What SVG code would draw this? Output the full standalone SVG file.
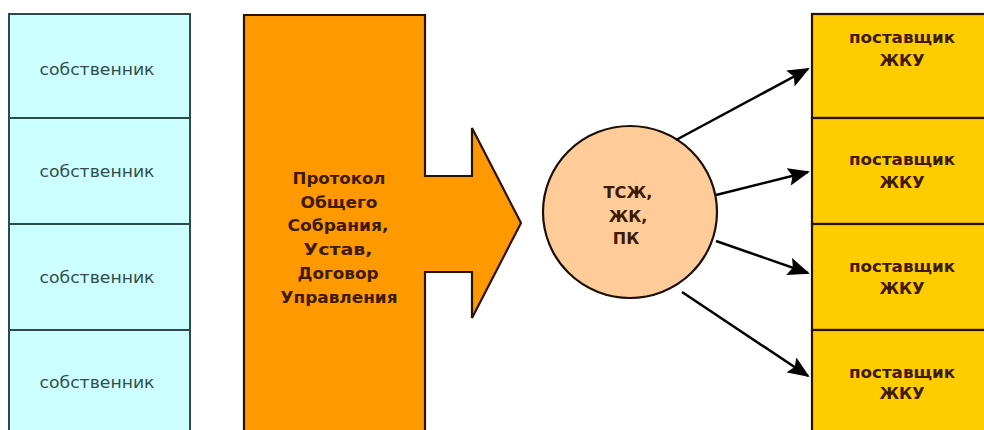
<svg xmlns="http://www.w3.org/2000/svg" width="984" height="430" viewBox="0 0 984 430">
  <style>
    .owner rect { fill: #ccffff; stroke: #2c4a4a; stroke-width: 2; }
    .owner text { font-family: "DejaVu Sans", "Liberation Sans", sans-serif; font-size: 16px; fill: #334d4d; text-anchor: middle; }
    .doc { fill: #ff9900; stroke: #2a1200; stroke-width: 2.2; stroke-linejoin: miter; }
    .bold { font-family: "DejaVu Sans", "Liberation Sans", sans-serif; font-weight: bold; font-size: 16px; fill: #3d1a00; text-anchor: middle; }
    .supplier rect { fill: #ffcc00; stroke: #2a1200; stroke-width: 2.2; }
    .org { fill: #ffcc99; stroke: #1a1008; stroke-width: 2.2; }
    .link { stroke: #000; stroke-width: 2.5; fill: none; marker-end: url(#head); }
  </style>
  <defs>
    <marker id="head" viewBox="0 0 22 18" refX="20" refY="9" markerWidth="22" markerHeight="18" markerUnits="userSpaceOnUse" orient="auto">
      <path d="M0,0 L22,9 L0,18 L4,9 Z" fill="#000"/>
    </marker>
  </defs>

  <rect width="984" height="430" fill="#ffffff"/>

  <!-- owners column -->
  <g id="owner1" class="owner">
    <rect x="9" y="14" width="181" height="104"/>
    <text x="97" y="75" textLength="115" lengthAdjust="spacingAndGlyphs">собственник</text>
  </g>
  <g id="owner2" class="owner">
    <rect x="9" y="118" width="181" height="106"/>
    <text x="97" y="177" textLength="115" lengthAdjust="spacingAndGlyphs">собственник</text>
  </g>
  <g id="owner3" class="owner">
    <rect x="9" y="224" width="181" height="106"/>
    <text x="97" y="283" textLength="115" lengthAdjust="spacingAndGlyphs">собственник</text>
  </g>
  <g id="owner4" class="owner">
    <rect x="9" y="330" width="181" height="110"/>
    <text x="97" y="388" textLength="115" lengthAdjust="spacingAndGlyphs">собственник</text>
  </g>

  <!-- documents block with block arrow -->
  <g id="documents">
    <polygon class="doc" points="244,15 425,15 425,176 472,176 472,128 521,223 472,318 472,272 425,272 425,440 244,440"/>
    <text class="bold" x="339" y="184" textLength="93" lengthAdjust="spacingAndGlyphs">Протокол</text>
    <text class="bold" x="339" y="208" textLength="77" lengthAdjust="spacingAndGlyphs">Общего</text>
    <text class="bold" x="338" y="231" textLength="101" lengthAdjust="spacingAndGlyphs">Собрания,</text>
    <text class="bold" x="338" y="255" textLength="69" lengthAdjust="spacingAndGlyphs">Устав,</text>
    <text class="bold" x="338" y="279" textLength="81" lengthAdjust="spacingAndGlyphs">Договор</text>
    <text class="bold" x="339" y="303" textLength="117" lengthAdjust="spacingAndGlyphs">Управления</text>
  </g>

  <!-- management organisation -->
  <g id="organisation">
    <ellipse class="org" cx="630" cy="212" rx="87" ry="86"/>
    <text class="bold" x="628" y="198" textLength="49" lengthAdjust="spacingAndGlyphs">ТСЖ,</text>
    <text class="bold" x="628" y="222">ЖК,</text>
    <text class="bold" x="626" y="244">ПК</text>
  </g>

  <!-- suppliers column -->
  <g id="supplier1" class="supplier">
    <rect x="812" y="14" width="180" height="104"/>
    <text class="bold" x="902" y="43" textLength="106" lengthAdjust="spacingAndGlyphs">поставщик</text>
    <text class="bold" x="902" y="66">ЖКУ</text>
  </g>
  <g id="supplier2" class="supplier">
    <rect x="812" y="118" width="180" height="106"/>
    <text class="bold" x="902" y="165" textLength="106" lengthAdjust="spacingAndGlyphs">поставщик</text>
    <text class="bold" x="902" y="188">ЖКУ</text>
  </g>
  <g id="supplier3" class="supplier">
    <rect x="812" y="224" width="180" height="106"/>
    <text class="bold" x="902" y="272" textLength="106" lengthAdjust="spacingAndGlyphs">поставщик</text>
    <text class="bold" x="902" y="294">ЖКУ</text>
  </g>
  <g id="supplier4" class="supplier">
    <rect x="812" y="330" width="180" height="110"/>
    <text class="bold" x="902" y="378" textLength="106" lengthAdjust="spacingAndGlyphs">поставщик</text>
    <text class="bold" x="902" y="399">ЖКУ</text>
  </g>

  <!-- connectors -->
  <g id="connectors">
    <line class="link" x1="676" y1="140" x2="808" y2="69"/>
    <line class="link" x1="716" y1="195" x2="808" y2="172"/>
    <line class="link" x1="716" y1="241" x2="808" y2="273"/>
    <line class="link" x1="682" y1="292" x2="808" y2="376"/>
  </g>
</svg>
